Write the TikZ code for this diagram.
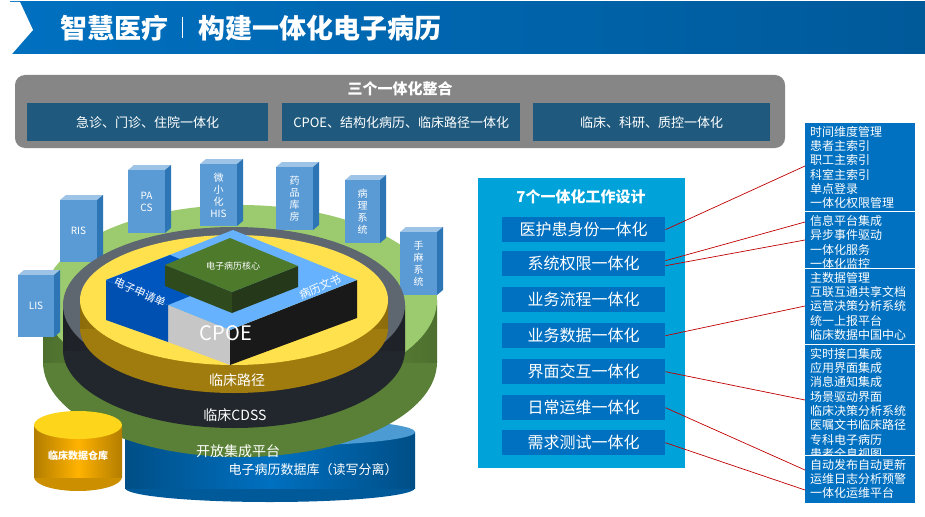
\documentclass[tikz,border=0pt]{standalone}
\usepackage{fontspec}
\setmainfont{Noto Sans CJK SC}
\begin{document}
\begin{tikzpicture}[x=1pt,y=-1pt,
  tx/.style={text=white,inner sep=0pt},
  itm/.style={fill=itemblue,minimum width=163pt,minimum height=25pt,inner sep=0pt,text=white,font=\fontsize{16}{16}\selectfont,anchor=north west},
  rl/.style={draw=red!75!black,line width=0.7pt},
]
\definecolor{itemblue}{HTML}{0070C0}
\definecolor{panel}{HTML}{00A2DA}
\definecolor{dkbox}{HTML}{1F5A7E}
\definecolor{pilblue}{HTML}{5B9BD5}
\definecolor{pilside}{HTML}{2E75B6}
\definecolor{pilltop}{HTML}{9DC3E6}
\definecolor{grn}{HTML}{9BCB6E}
\definecolor{grnside}{HTML}{6FA043}
\definecolor{dk}{HTML}{5E6670}
\definecolor{dkside}{HTML}{2B3038}
\definecolor{yel}{HTML}{FFE14D}
\definecolor{yelside}{HTML}{C89A10}
\definecolor{cubetop}{HTML}{4E7A2C}
\definecolor{cubel}{HTML}{2F4A1C}
\definecolor{cuber}{HTML}{25391A}
\useasboundingbox (0,0) rectangle (925,516);
\fill[white] (0,0) rectangle (925,516);
% header
\shade[left color=itemblue,right color=itemblue!80!black] (10,2) rectangle (925,54);
\fill[white] (10,2) -- (20,2) -- (33,30) -- (12,54) -- (10,54) -- cycle;
\node[tx,anchor=west,font=\fontsize{27}{27}\selectfont\bfseries] (title) at (60,28) {智慧医疗};
\draw[white,line width=0.8pt] (182,17) -- (182,38);
\node[tx,anchor=west,font=\fontsize{27}{27}\selectfont\bfseries] (title2) at (198,28) {构建一体化电子病历};
% top gray box
\fill[gray!95] (15,75) [rounded corners=10pt] rectangle (785,148);
\node[tx,font=\fontsize{15}{15}\selectfont\bfseries] (t3) at (400,89) {三个一体化整合};
\node[fill=dkbox,minimum width=241pt,minimum height=38pt,anchor=north west,tx,font=\fontsize{13}{13}\selectfont] (a1) at (27,103) {急诊、门诊、住院一体化};
\node[fill=dkbox,minimum width=238pt,minimum height=38pt,anchor=north west,tx,font=\fontsize{13}{13}\selectfont] (a2) at (282,103) {CPOE、结构化病历、临床路径一体化};
\node[fill=dkbox,minimum width=237pt,minimum height=38pt,anchor=north west,tx,font=\fontsize{13}{13}\selectfont] (a3) at (533,103) {临床、科研、质控一体化};
% middle panel
\fill[panel] (478,178) rectangle (685,468);
\node[tx,font=\fontsize{15}{15}\selectfont\bfseries] (t7) at (581,197) {7个一体化工作设计};
\node[itm] (i1) at (502,217) {医护患身份一体化};
\node[itm] (i2) at (502,251) {系统权限一体化};
\node[itm] (i3) at (502,287) {业务流程一体化};
\node[itm] (i4) at (502,323) {业务数据一体化};
\node[itm] (i5) at (502,359) {界面交互一体化};
\node[itm] (i6) at (502,395) {日常运维一体化};
\node[itm] (i7) at (502,430) {需求测试一体化};
% right boxes
\def\rb#1#2#3#4{\begin{scope}\clip (805,#1) rectangle (915,#2);
  \fill[itemblue] (805,#1) rectangle (915,#2);
  \node[tx,anchor=north west,align=left,font=\fontsize{12}{14.3}\selectfont] (#3) at (810,#1+3) {#4};\end{scope}}
\rb{123}{211}{r1}{时间维度管理\\患者主索引\\职工主索引\\科室主索引\\单点登录\\一体化权限管理}
\rb{212}{268}{r2}{信息平台集成\\异步事件驱动\\一体化服务\\一体化监控}
\rb{269}{344}{r3}{主数据管理\\互联互通共享文档\\运营决策分析系统\\统一上报平台\\临床数据中国中心}
\rb{345}{455}{r4}{实时接口集成\\应用界面集成\\消息通知集成\\场景驱动界面\\临床决策分析系统\\医嘱文书临床路径\\专科电子病历\\患者全息视图}
\rb{456}{503}{r5}{自动发布自动更新\\运维日志分析预警\\一体化运维平台}
\foreach \y in {211.5,268.5,344.5,455.5} \draw[white,line width=1pt] (805,\y) -- (915,\y);
\coordinate (c1) at (805,166); \coordinate (c2) at (805,222); \coordinate (c3) at (805,240);
\coordinate (c4) at (805,306); \coordinate (c5) at (805,400); \coordinate (c6) at (805,470);
\coordinate (c7) at (805,490);
\draw[rl] (i1.east) -- (c1);
\draw[rl] ([yshift=3pt]i2.east) -- (c2);
\draw[rl] ([yshift=-2pt]i2.east) -- (c3);
\draw[rl] (i4.east) -- (c4);
\draw[rl] (i5.east) -- (c5);
\draw[rl] (i6.east) -- (c6);
\draw[rl] (i7.east) -- (c7);
% left 3D
\def\cyl#1#2#3#4#5#6#7{\fill[#7!80!black] (#1,#2+#5) ellipse ({#3} and {#4});
  \shade[left color=#7!70!black,right color=#7!70!black,middle color=#7] (#1-#3,#2) rectangle (#1+#3,#2+#5);
  \fill[#6] (#1,#2) ellipse ({#3} and {#4});}
\cyl{270}{432}{145}{14}{56}{itemblue!70}{itemblue}
\node[tx,font=\fontsize{13}{13}\selectfont] (db) at (313,470) {电子病历数据库（读写分离）};
\cyl{240}{300}{197}{95}{62}{grn}{grnside}
\node[tx,font=\fontsize{14}{14}\selectfont] (kf) at (238,451) {开放集成平台};
\cyl{78}{425}{44}{14}{52}{yellow!70!orange!90!white}{orange!60!yellow}
\node[tx,font=\fontsize{10}{10}\selectfont\bfseries] (dw) at (78,456) {临床数据仓库};
% pillars
\def\pil#1#2#3#4#5{\fill[pilltop] (#1,#2) -- (#1+6,#2-5) -- (#3+6,#2-5) -- (#3,#2) -- cycle;
  \fill[pilside] (#3,#2) -- (#3+6,#2-5) -- (#3+6,#4-5) -- (#3,#4) -- cycle;
  \fill[pilblue] (#1,#2) rectangle (#3,#4);
  \node[tx,align=center,font=\fontsize{10}{12}\selectfont] at ({(#1+#3)/2},{(#2+#4)/2}) {#5};}
\pil{18}{275}{54}{337}{LIS}
\pil{60}{200}{97}{262}{RIS}
\pil{128}{170}{165}{233}{PA\\CS}
\pil{200}{164}{237}{226}{微\\小\\化\\HIS}
\pil{276}{167}{313}{230}{药\\品\\库\\房}
\pil{345}{180}{380}{243}{病\\理\\系\\统}
\pil{400}{232}{437}{295}{手\\麻\\系\\统}
\cyl{234}{305}{171}{78}{45}{dk}{dkside}
\node[tx,font=\fontsize{14}{14}\selectfont] (cd) at (235,415) {临床CDSS};
\cyl{234}{300}{154}{65}{28}{yel}{yelside}
\node[tx,font=\fontsize{14}{14}\selectfont] (lj) at (237,380) {临床路径};
% blocks
\fill[gray!45] (168,305) -- (230,330) -- (230,365) -- (168,342) -- cycle;
\fill[blue!55!cyan!70!black] (106,280) -- (168,305) -- (168,342) -- (106,320) -- cycle;
\fill[black!90] (230,330) -- (357,280) -- (357,318) -- (230,365) -- cycle;
\fill[blue!50!cyan!60] (106,280) -- (233,230) -- (357,280) -- (230,330) -- cycle;
\fill[blue!55!cyan!75!black] (106,280) -- (170,255) -- (230,280) -- (168,305) -- cycle;
\fill[cubel] (165,265) -- (232,292) -- (232,313) -- (165,286) -- cycle;
\fill[cuber] (232,292) -- (298,266) -- (298,287) -- (232,313) -- cycle;
\fill[cubetop] (165,265) -- (230,238) -- (298,266) -- (232,292) -- cycle;
\node[tx,font=\fontsize{9}{9}\selectfont] (hx) at (233,266) {电子病历核心};
\node[tx,rotate=-24,font=\fontsize{11}{11}\selectfont] (sq) at (140,292) {电子申请单};
\node[tx,rotate=24,font=\fontsize{11}{11}\selectfont] (ws) at (320,287) {病历文书};
\node[tx,font=\fontsize{20}{20}\selectfont] (cp) at (226,333) {CPOE};
\end{tikzpicture}
\end{document}
